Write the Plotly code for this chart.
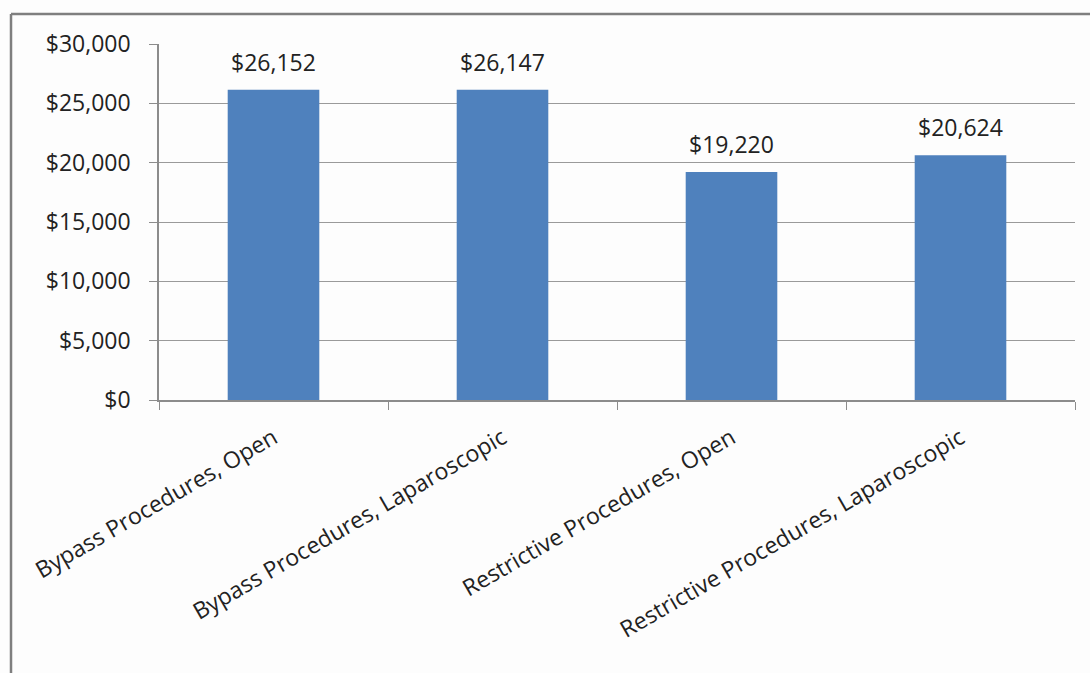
import plotly.graph_objects as go

# Average cost per procedure type
categories = [
    "Bypass Procedures, Open",
    "Bypass Procedures, Laparoscopic",
    "Restrictive Procedures, Open",
    "Restrictive Procedures, Laparoscopic",
]
costs = [26152, 26147, 19220, 20624]

y_ticks = [0, 5000, 10000, 15000, 20000, 25000, 30000]
y_tick_labels = [f"${v:,}" for v in y_ticks]

FONT = "Open Sans"
AXIS_GRAY = "#8c8c8c"
TEXT = "#222222"

fig = go.Figure()
fig.add_trace(go.Bar(
    x=categories,
    y=costs,
    marker=dict(color="#4F81BD", line=dict(width=0)),
    hoverinfo="x+y",
))

# Value labels above each bar
for cat, val in zip(categories, costs):
    fig.add_annotation(
        x=cat, y=val, text=f"${val:,}", showarrow=False,
        yanchor="bottom", yshift=10,
        font=dict(family=FONT, size=23, color=TEXT),
    )

W, H = 1090, 673
L, R, T, B = 159, 15, 44, 273

# Outer frame (top and left edges)
frame_x = (11 - L) / (W - L - R)
frame_y = 1 + (T - 14) / (H - T - B)
fig.add_shape(type="line", xref="paper", yref="paper",
              x0=frame_x, x1=1.2, y0=frame_y, y1=frame_y,
              line=dict(color="#7f7f7f", width=2.5))
fig.add_shape(type="line", xref="paper", yref="paper",
              x0=frame_x, x1=frame_x, y0=frame_y, y1=-1.0,
              line=dict(color="#7f7f7f", width=2.5))

fig.update_layout(
    width=W, height=H,
    margin=dict(l=L, r=R, t=T, b=B),
    paper_bgcolor="#fdfdfd",
    plot_bgcolor="#fdfdfd",
    bargap=0.6,
    showlegend=False,
    font=dict(family=FONT, size=23, color=TEXT),
    xaxis=dict(
        type="category",
        tickangle=-30,
        tickson="boundaries",
        ticks="outside", ticklen=8, tickcolor=AXIS_GRAY,
        ticklabelstandoff=14,
        showline=True, linecolor=AXIS_GRAY, linewidth=1.5,
        showgrid=False,
        tickfont=dict(family=FONT, size=23, color=TEXT),
    ),
    yaxis=dict(
        range=[0, 30000],
        tickmode="array",
        tickvals=y_ticks,
        ticktext=y_tick_labels,
        ticks="outside", ticklen=8, tickcolor=AXIS_GRAY,
        ticklabelstandoff=14,
        showline=True, linecolor=AXIS_GRAY, linewidth=1.5,
        showgrid=True, gridcolor="#9a9a9a", gridwidth=1,
        zeroline=False,
        tickfont=dict(family=FONT, size=23, color=TEXT),
    ),
)

fig.write_html("out.html")
